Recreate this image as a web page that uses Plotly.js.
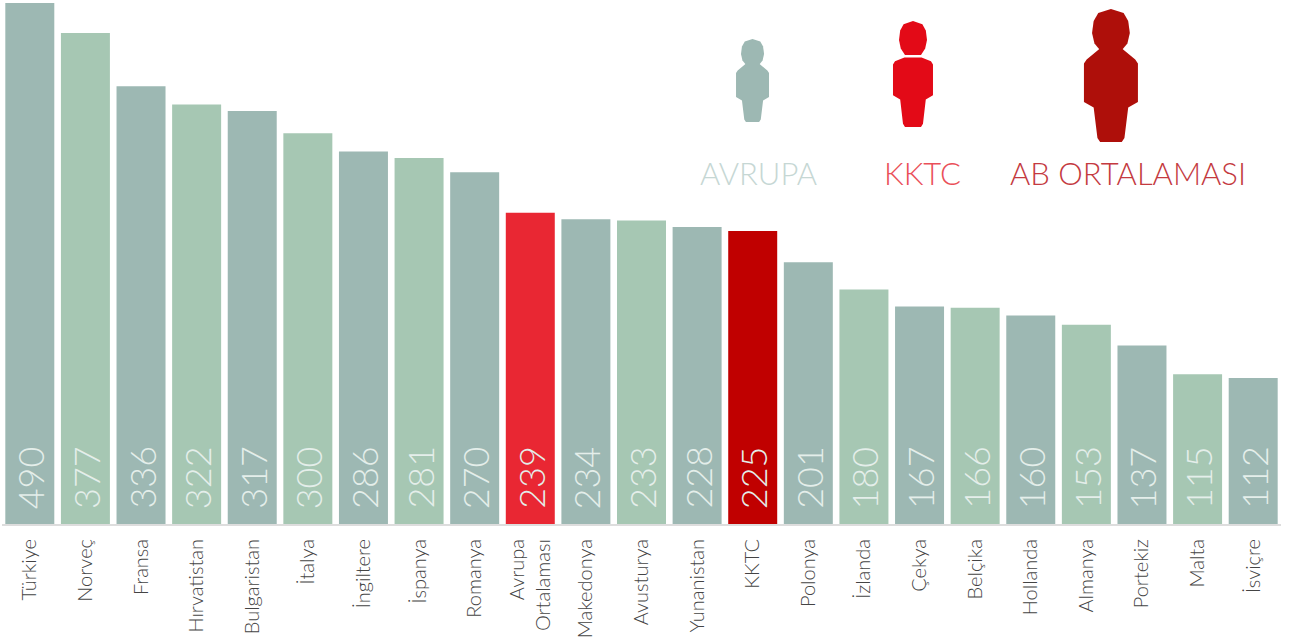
<!DOCTYPE html>
<html><head><meta charset="utf-8">
<script src="https://cdn.plot.ly/plotly-3.0.1.min.js"></script>
<style>html,body{margin:0;padding:0;background:#fff;overflow:hidden}#c{width:1290px;height:640px}</style>
</head><body><div id="c"></div>
<script>
const categories = ["Türkiye","Norveç","Fransa","Hırvatistan","Bulgaristan","İtalya","İngiltere","İspanya","Romanya","Avrupa<br>Ortalaması","Makedonya","Avusturya","Yunanistan","KKTC","Polonya","İzlanda","Çekya","Belçika","Hollanda","Almanya","Portekiz","Malta","İsviçre"];
const values = [490,377,336,322,317,300,286,281,270,239,234,233,228,225,201,180,167,166,160,153,137,115,112];
const GRAY="#9DB8B3", GREEN="#A6C7B3", RED="#E92733", DARK="#C00000";
const colors = [GRAY,GREEN,GRAY,GREEN,GRAY,GREEN,GRAY,GREEN,GRAY,RED,GRAY,GREEN,GRAY,DARK,GRAY,GREEN,GRAY,GREEN,GRAY,GREEN,GRAY,GREEN,GRAY];
const legendLabels = ["AVRUPA","KKTC","AB ORTALAMASI"];
const legendColors = ["#C6D7D4","#EA4F59","#C43A3F"];
const legendX = [758,923,1128];
const FONT = "Lato, 'Open Sans', sans-serif";
const W=1290,H=640,L=1.8,R=8.9,T=3,B=116;
const pw=W-L-R, ph=H-T-B;
const fx=x=>(x-L)/pw, fy=y=>1-(y-T)/ph;
function person(cx,top,halfW,height,color,headBottom,bodyTop){
  const head=[[0,0],[.47,.03],[.64,.09],[.7,.18],[.61,.26],[.4,headBottom],[-.4,headBottom],[-.61,.26],[-.7,.18],[-.64,.09],[-.47,.03]];
  const body=[[0,bodyTop],[.43,bodyTop],[.9,.38],[1,.41],[1,.70],[.64,.74],[.5,.97],[.4,1],[-.4,1],[-.5,.97],[-.64,.74],[-1,.70],[-1,.41],[-.9,.38],[-.43,bodyTop]];
  const p=a=>"M"+a.map(q=>fx(cx+q[0]*halfW).toFixed(5)+","+fy(top+q[1]*height).toFixed(5)).join("L")+"Z";
  return [head,body].map(a=>({type:"path",xref:"paper",yref:"paper",path:p(a),fillcolor:color,line:{width:0},layer:"above"}));
}
const shapes=[
  ...person(752.5,39,16.5,83,"#9DB8B3",.31,.30),
  ...person(913,21,20,106,"#E30A17",.32,.345),
  ...person(1111,9,27,133,"#AE0F0A",.31,.30)
];
const annotations=values.map((v,i)=>({x:i,y:0,xref:"x",yref:"y",text:String(v),showarrow:false,textangle:-90,yanchor:"bottom",xanchor:"center",yshift:13,font:{family:FONT,size:36,weight:300,color:"#E4EEEA"}}));
legendLabels.forEach((t,i)=>annotations.push({xref:"paper",yref:"paper",x:fx(legendX[i]),y:fy(173),text:t,showarrow:false,xanchor:"center",yanchor:"middle",font:{family:FONT,size:31,weight:300,color:legendColors[i]}}));
Plotly.newPlot("c",[{type:"bar",x:categories.map((c,i)=>i),y:values,marker:{color:colors,line:{width:0}},hoverinfo:"skip"}],{
  width:W,height:H,margin:{l:L,r:R,t:T,b:B,pad:0},paper_bgcolor:"#fff",plot_bgcolor:"#fff",showlegend:false,bargap:.119,
  xaxis:{type:"linear",range:[-.5,22.5],tickmode:"array",tickvals:categories.map((c,i)=>i),ticktext:categories,tickangle:-90,ticks:"",ticklabelstandoff:5,tickfont:{family:FONT,size:20,weight:300,color:"#444"},showgrid:false,zeroline:false,showline:true,linecolor:"#DDDDDD",linewidth:2},
  yaxis:{range:[0,400],visible:false,showgrid:false,zeroline:false},
  shapes,annotations
},{displayModeBar:false,staticPlot:true});
</script></body></html>
